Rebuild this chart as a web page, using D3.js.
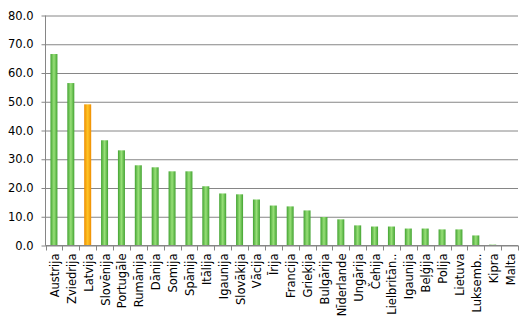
<!DOCTYPE html>
<html lang="lv">
<head>
    <meta charset="utf-8">
    <title>Chart</title>
    <script type="text/javascript" src="https://cdn.jsdelivr.net/npm/d3@7"></script>
    <style>
        body { margin: 0; background: #fff; }
        text { font-family: "DejaVu Sans", Verdana, sans-serif; fill: #000; }
    </style>
</head>
<body>
<script type="text/javascript">
    var countries = [
        "Austrija", "Zviedrija", "Latvija", "Slovēnija", "Portugāle", "Rumānija",
        "Dānija", "Somija", "Spānija", "Itālija", "Igaunija", "Slovākija", "Vācija",
        "Īrija", "Francija", "Grieķija", "Bulgārija", "Nīderlande", "Ungārija",
        "Čehija", "Lielbritān..", "Igaunija ", "Beļģija", "Polija", "Lietuva",
        "Luksemb..", "Kipra", "Malta"
    ];
    var values = [
        66.6, 56.5, 49.1, 36.6, 33.1, 27.9,
        27.2, 25.8, 25.8, 20.6, 18.1, 17.8, 16.0,
        13.9, 13.6, 12.2, 9.9, 9.1, 7.0,
        6.6, 6.6, 5.9, 5.9, 5.6, 5.6,
        3.5, 0.3, 0.0
    ];
    var highlight = "Latvija";
    var yTicks = [0, 10, 20, 30, 40, 50, 60, 70, 80];

    var w = 523, h = 321;
    var pLeft = 45.5, pRight = 518, pTop = 15.5, pBottom = 245.5;

    var svg = d3.select("body").append("svg")
            .attr("width", w)
            .attr("height", h);

    var defs = svg.append("defs");
    function grad(id, edge, mid) {
        var g = defs.append("linearGradient").attr("id", id)
                .attr("x1", "0%").attr("x2", "100%").attr("y1", "0%").attr("y2", "0%");
        g.append("stop").attr("offset", "0%").attr("stop-color", edge);
        g.append("stop").attr("offset", "50%").attr("stop-color", mid);
        g.append("stop").attr("offset", "100%").attr("stop-color", edge);
    }
    grad("gGreen", "#43a332", "#98e078");
    grad("gOrange", "#ee8c00", "#ffc526");

    var x = d3.scaleBand().domain(countries).range([pLeft, pRight]);
    var y = d3.scaleLinear().domain([0, 80]).range([pBottom, pTop]);

    // režģis + y ass
    svg.append("g")
            .attr("transform", "translate(" + pLeft + ",0)")
            .call(d3.axisLeft(y).tickValues(yTicks)
                    .tickSize(-(pRight - pLeft))
                    .tickPadding(12)
                    .tickFormat(d3.format(".1f")))
            .call(function (g) {
                g.select(".domain").remove();
                g.selectAll(".tick line").attr("stroke", "#868686").attr("x1", -4);
                g.selectAll(".tick text").attr("font-size", "11.5px")
                        .attr("font-family", "DejaVu Sans, sans-serif");
            });

    svg.append("line")
            .attr("x1", pLeft).attr("x2", pLeft)
            .attr("y1", pTop).attr("y2", pBottom)
            .attr("stroke", "#868686");

    // stabiņi
    var bw = 7;
    svg.selectAll("rect.bar")
            .data(values)
            .enter()
            .append("rect")
            .attr("class", "bar")
            .attr("x", function (d, i) {
                return x(countries[i]) + x.bandwidth() / 2 - bw / 2;
            })
            .attr("y", function (d) { return y(d); })
            .attr("width", bw)
            .attr("height", function (d) { return pBottom - y(d); })
            .attr("fill", function (d, i) {
                return countries[i] === highlight ? "url(#gOrange)" : "url(#gGreen)";
            });

    // x ass
    var xa = svg.append("g").attr("transform", "translate(0," + pBottom + ")");
    xa.append("line").attr("x1", pLeft).attr("x2", pRight).attr("stroke", "#868686");
    var bounds = countries.map(function (c) { return x(c); }).concat([pRight]);
    xa.selectAll("line.tk")
            .data(bounds)
            .enter()
            .append("line")
            .attr("class", "tk")
            .attr("x1", function (d) { return Math.round(d) + 0.5; })
            .attr("x2", function (d) { return Math.round(d) + 0.5; })
            .attr("y1", 0).attr("y2", 5)
            .attr("stroke", "#868686");

    svg.selectAll("text.lbl")
            .data(countries)
            .enter()
            .append("text")
            .attr("class", "lbl")
            .text(function (d) { return d.trim(); })
            .attr("transform", function (d) {
                return "translate(" + (x(d) + x.bandwidth() / 2 + 1) + "," + (pBottom + 8) + ") rotate(-90)";
            })
            .attr("text-anchor", "end")
            .attr("dy", "0.35em")
            .attr("font-size", "11.5px");
</script>
</body>
</html>
